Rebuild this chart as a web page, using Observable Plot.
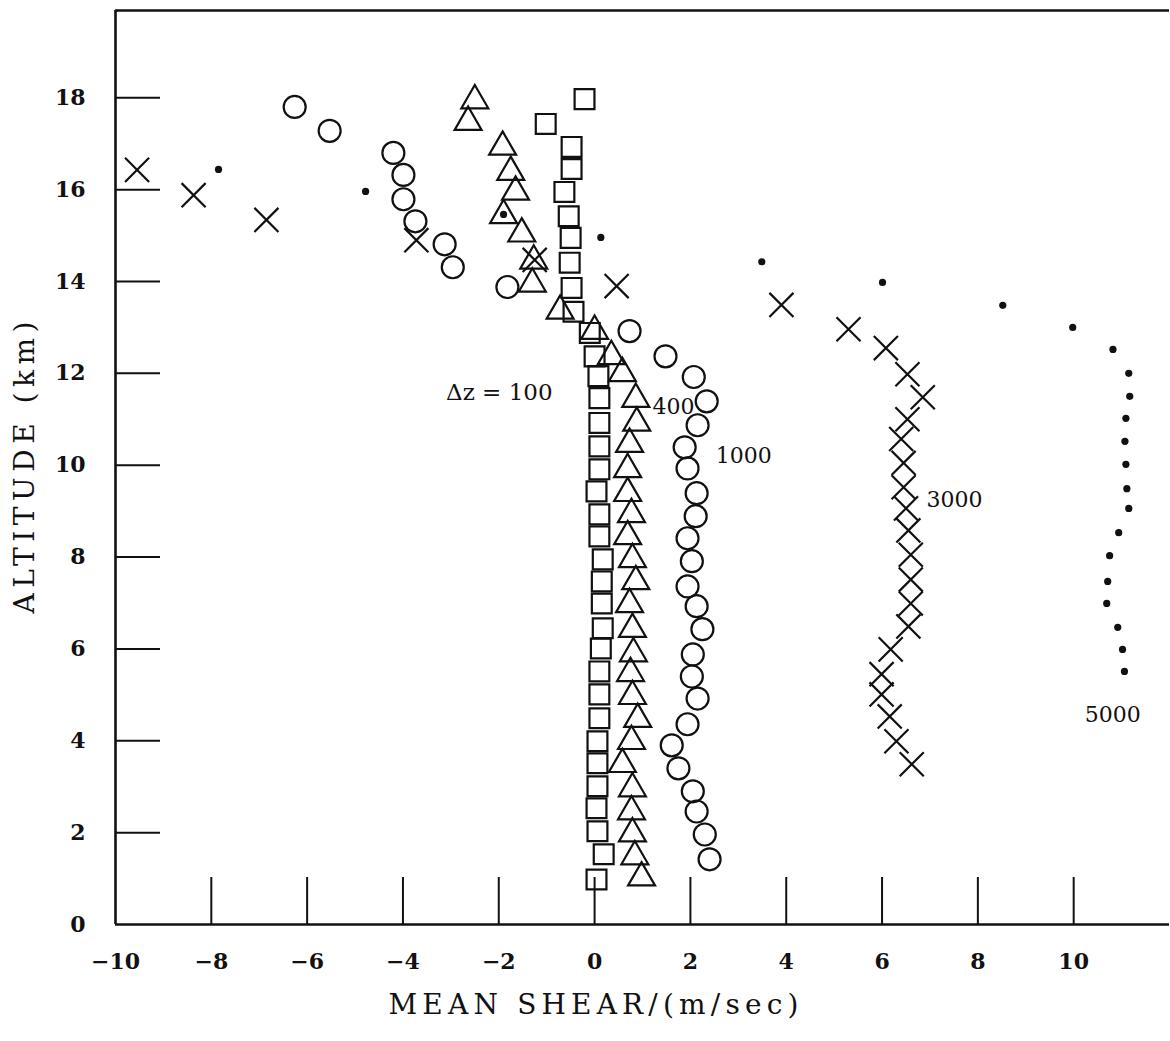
<!DOCTYPE html>
<html>
<head>
<meta charset="utf-8">
<script src="https://cdn.jsdelivr.net/npm/d3@7"></script>
<script src="https://cdn.jsdelivr.net/npm/@observablehq/plot@0.6"></script>
<style>
  body { margin: 0; background: #fff; }
  #chart svg { display: block; }
</style>
</head>
<body>
<div id="chart"></div>
<script>
// ---- Data (altitude km, mean shear m/sec) ----
// Δz = 100 m (squares)
const alt100   = [0.98, 1.53, 2.03, 2.53, 3.01, 3.51, 3.99, 4.49, 5.01, 5.51, 6.01, 6.45, 6.99, 7.47, 7.95, 8.45, 8.93, 9.43, 9.91, 10.41, 10.92, 11.46, 11.94, 12.37, 12.88, 13.34, 13.86, 14.41, 14.95, 15.42, 15.95, 16.45, 16.93, 17.43, 17.97];
const shear100 = [0.04, 0.19, 0.06, 0.04, 0.06, 0.06, 0.06, 0.10, 0.10, 0.10, 0.13, 0.17, 0.15, 0.15, 0.17, 0.10, 0.10, 0.04, 0.10, 0.10, 0.10, 0.10, 0.08, 0.00, -0.10, -0.44, -0.48, -0.52, -0.50, -0.54, -0.63, -0.48, -0.48, -1.02, -0.21];

// Δz = 400 m (triangles)
const alt400   = [1.02, 1.48, 1.98, 2.46, 2.96, 3.49, 3.99, 4.47, 4.97, 5.47, 5.90, 6.43, 6.97, 7.47, 7.95, 8.45, 8.93, 9.39, 9.91, 10.46, 10.92, 11.44, 12.00, 12.37, 12.92, 13.36, 13.95, 14.45, 15.04, 15.44, 15.95, 16.38, 16.93, 17.47, 17.94];
const shear400 = [0.98, 0.84, 0.79, 0.77, 0.79, 0.58, 0.77, 0.90, 0.79, 0.75, 0.81, 0.79, 0.73, 0.86, 0.79, 0.69, 0.77, 0.69, 0.69, 0.73, 0.88, 0.86, 0.58, 0.35, 0.00, -0.72, -1.30, -1.27, -1.52, -1.90, -1.65, -1.75, -1.92, -2.64, -2.50];

// Δz = 1000 m (circles)
const alt1000   = [1.42, 1.96, 2.46, 2.90, 3.40, 3.90, 4.36, 4.92, 5.40, 5.88, 6.43, 6.93, 7.36, 7.91, 8.41, 8.89, 9.39, 9.93, 10.39, 10.87, 11.39, 11.92, 12.37, 12.92, 13.88, 14.31, 14.81, 15.31, 15.79, 16.32, 16.80, 17.28, 17.80];
const shear1000 = [2.40, 2.30, 2.13, 2.05, 1.75, 1.61, 1.94, 2.15, 2.03, 2.05, 2.25, 2.13, 1.94, 2.03, 1.94, 2.11, 2.13, 1.94, 1.88, 2.15, 2.34, 2.07, 1.48, 0.73, -1.82, -2.96, -3.13, -3.74, -3.99, -3.99, -4.20, -5.53, -6.26];

// Δz = 3000 m (crosses)
const alt3000   = [3.49, 3.99, 4.53, 5.01, 5.45, 5.99, 6.49, 6.99, 7.51, 8.05, 8.58, 9.06, 9.52, 10.05, 10.57, 11.00, 11.48, 11.98, 12.55, 12.96, 13.49, 13.90, 14.47, 14.90, 15.34, 15.88, 16.43];
const shear3000 = [6.62, 6.30, 6.16, 5.99, 5.99, 6.18, 6.55, 6.60, 6.60, 6.60, 6.55, 6.50, 6.45, 6.45, 6.40, 6.53, 6.85, 6.53, 6.08, 5.30, 3.90, 0.46, -1.25, -3.72, -6.85, -8.37, -9.55];

// Δz = 5000 m (dots)
const alt5000   = [5.51, 5.99, 6.47, 6.99, 7.47, 8.03, 8.53, 9.06, 9.49, 10.02, 10.52, 11.02, 11.50, 12.00, 12.52, 13.00, 13.48, 13.98, 14.43, 14.96, 15.46, 15.96, 16.44];
const shear5000 = [11.06, 11.02, 10.92, 10.69, 10.71, 10.75, 10.94, 11.15, 11.11, 11.09, 11.07, 11.09, 11.17, 11.15, 10.82, 9.98, 8.52, 6.01, 3.49, 0.13, -1.90, -4.78, -7.85];

// Curve labels
const labelText  = ["Δz = 100", "400", "1000", "3000", "5000"];
const labelShear = [-3.1, 1.21, 2.53, 6.93, 10.23];
const labelAlt   = [11.58, 11.26, 10.21, 9.25, 4.57];

// Axes
const xDomain = [-10, 12];
const yDomain = [0, 19.9];
const xTickValues = [-10, -8, -6, -4, -2, 0, 2, 4, 6, 8, 10];
const yTickValues = [0, 2, 4, 6, 8, 10, 12, 14, 16, 18];
const xTitle = "MEAN SHEAR/(m/sec)";
const yTitle = "ALTITUDE (km)";

// ---- build tables ----
const toPts = (alts, shears) => alts.map((a, i) => ({alt: a, shear: shears[i]}));
const s100 = toPts(alt100, shear100);
const s400 = toPts(alt400, shear400);
const s1000 = toPts(alt1000, shear1000);
const s3000 = toPts(alt3000, shear3000);
const s5000 = toPts(alt5000, shear5000);
const labels = labelText.map((t, i) => ({text: t, shear: labelShear[i], alt: labelAlt[i]}));

const W = 1170, H = 1041;
const mL = 115, mR = 1, mT = 10, mB = 117;
const frameW = W - mL - mR, frameH = H - mT - mB;

const fmt = d => d < 0 ? "\u2212" + (-d) : String(d);
const ink = "#111";

const chart = Plot.plot({
  width: W, height: H,
  marginLeft: mL, marginRight: mR, marginTop: mT, marginBottom: mB,
  x: {domain: xDomain, label: null},
  y: {domain: yDomain, label: null},
  style: {fontFamily: "'DejaVu Serif', serif", fontSize: "20px", color: ink, background: "#fff"},
  marks: [
    // frame lines (left, bottom, top)
    Plot.ruleX([xDomain[0]], {stroke: ink, strokeWidth: 2.6}),
    Plot.ruleY([yDomain[0], yDomain[1]], {stroke: ink, strokeWidth: 2.4}),
    // inward tick marks
    Plot.tickX(xTickValues.slice(1), {x: d => d, stroke: ink, strokeWidth: 2, insetTop: frameH - 47}),
    Plot.tickY(yTickValues.slice(1), {y: d => d, stroke: ink, strokeWidth: 2, insetRight: frameW - 45}),
    // tick labels
    Plot.axisX({ticks: xTickValues, tickSize: 0, tickPadding: 29, tickFormat: fmt, fontWeight: "bold", fontSize: 22, label: null}),
    Plot.axisY({ticks: yTickValues, tickSize: 0, tickPadding: 30, tickFormat: fmt, fontWeight: "bold", fontSize: 22, label: null}),
    // axis titles
    Plot.text([xTitle], {frameAnchor: "bottom", dx: -49, dy: 89, fontSize: 28, fill: ink}),
    Plot.text([yTitle], {frameAnchor: "left", textAnchor: "middle", dx: -90, rotate: -90, fontSize: 28, fill: ink}),
    // series
    Plot.dot(s5000, {x: "shear", y: "alt", r: 3.6, fill: ink, stroke: "none", symbol: "circle"}),
    Plot.dot(s3000, {x: "shear", y: "alt", r: 11, symbol: "times", stroke: ink, strokeWidth: 2.2}),
    Plot.dot(s1000, {x: "shear", y: "alt", r: 11, symbol: "circle", fill: "none", stroke: ink, strokeWidth: 2.2}),
    Plot.dot(s400, {x: "shear", y: "alt", r: 10, symbol: "triangle", fill: "none", stroke: ink, strokeWidth: 2.2}),
    Plot.dot(s100, {x: "shear", y: "alt", r: 11.2, symbol: "square", fill: "none", stroke: ink, strokeWidth: 2.2}),
    // curve labels
    Plot.text(labels, {x: "shear", y: "alt", text: "text", textAnchor: "start",
      fontSize: d => d.text.startsWith("Δ") ? 23 : 22,
      fontWeight: d => d.text.startsWith("Δ") ? "bold" : "normal", fill: ink})
  ]
});
// stretch the two axis titles to the width they occupy in the typeset original
const titleWidths = new Map([[xTitle, 410], [yTitle, 292]]);
d3.select(chart).selectAll("text")
  .filter(function() { return titleWidths.has(this.textContent); })
  .attr("textLength", function() { return titleWidths.get(this.textContent); })
  .attr("lengthAdjust", "spacing");
document.getElementById("chart").appendChild(chart);
</script>
</body>
</html>
